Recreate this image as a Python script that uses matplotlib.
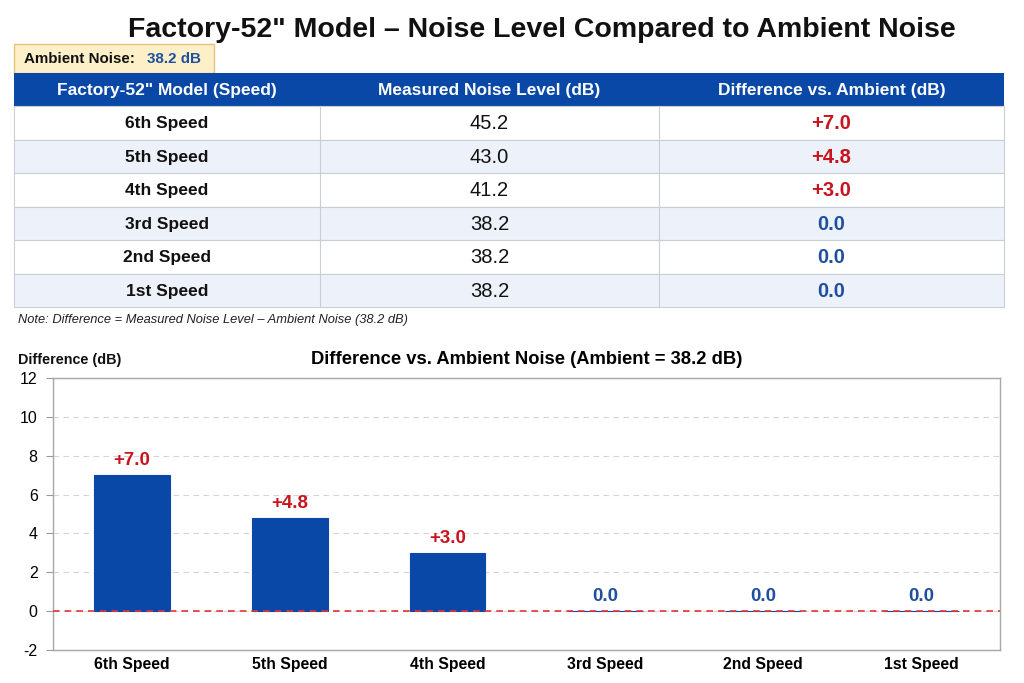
import numpy as np
import matplotlib
matplotlib.use("Agg")
import matplotlib.pyplot as plt
from matplotlib.patches import Rectangle

plt.rcParams['font.family'] = ['Liberation Sans', 'DejaVu Sans']
plt.rcParams['axes.unicode_minus'] = False

# data
speeds = ["6th Speed", "5th Speed", "4th Speed", "3rd Speed", "2nd Speed", "1st Speed"]
measured = [45.2, 43.0, 41.2, 38.2, 38.2, 38.2]
ambient = 38.2
diffs = [round(m - ambient, 1) for m in measured]
headers = ['Factory-52" Model (Speed)', "Measured Noise Level (dB)", "Difference vs. Ambient (dB)"]
yticks = [-2, 0, 2, 4, 6, 8, 10, 12]

BLUE = "#0a48a8"
RED = "#c8141e"
VALBLUE = "#1f4f9e"


def fmt_diff(d):
    return "+%.1f" % d if d > 0 else "%.1f" % d


def diff_color(d):
    return RED if d > 0 else VALBLUE


W, H = 1024, 683
fig = plt.figure(figsize=(W / 100, H / 100), dpi=100)
fig.patch.set_facecolor("white")

# overlay axes in pixel units for the title / table part
lay = fig.add_axes([0, 0, 1, 1])
lay.set_xlim(0, W)
lay.set_ylim(H, 0)
lay.axis("off")

lay.text(542, 30, 'Factory-52" Model \u2013 Noise Level Compared to Ambient Noise',
         ha="center", va="center", fontsize=20.5, fontweight="bold", color="#111111")

# ambient noise badge
lay.add_patch(Rectangle((14, 44), 200, 29, facecolor="#fdf0c8", edgecolor="#e6c277", lw=1))
lay.text(24, 59, "Ambient Noise:", ha="left", va="center", fontsize=10.9,
         fontweight="bold", color="#111111")
lay.text(147, 59, "%.1f dB" % ambient, ha="left", va="center", fontsize=10.9,
         fontweight="bold", color=VALBLUE)

# table
col_x = [14, 320, 659, 1004]
head_top, head_h, row_h = 73, 33, 33.5
lay.add_patch(Rectangle((col_x[0], head_top), col_x[-1] - col_x[0], head_h,
                        facecolor=BLUE, edgecolor=BLUE, lw=0))
for j, h in enumerate(headers):
    cx = (col_x[j] + col_x[j + 1]) / 2
    lay.text(cx, head_top + head_h / 2 + 1, h, ha="center", va="center",
             fontsize=12.5, fontweight="bold", color="white")

for i, (s, m, d) in enumerate(zip(speeds, measured, diffs)):
    y0 = head_top + head_h + i * row_h
    fc = "white" if i % 2 == 0 else "#edf2fa"
    lay.add_patch(Rectangle((col_x[0], y0), col_x[-1] - col_x[0], row_h,
                            facecolor=fc, edgecolor="#c9ced6", lw=0.8))
    for xv in col_x[1:-1]:
        lay.plot([xv, xv], [y0, y0 + row_h], color="#c9ced6", lw=0.8)
    cy = y0 + row_h / 2 + 1
    lay.text((col_x[0] + col_x[1]) / 2, cy, s, ha="center", va="center",
             fontsize=12.5, fontweight="bold", color="#111111")
    lay.text((col_x[1] + col_x[2]) / 2, cy, "%.1f" % m, ha="center", va="center",
             fontsize=14.5, color="#111111")
    lay.text((col_x[2] + col_x[3]) / 2, cy, fmt_diff(d), ha="center", va="center",
             fontsize=14.5, fontweight="bold", color=diff_color(d))

lay.text(18, 320, "Note: Difference = Measured Noise Level \u2013 Ambient Noise (%.1f dB)" % ambient,
         ha="left", va="center", fontsize=9.3, style="italic", color="#222222")

lay.text(18, 360, "Difference (dB)", ha="left", va="center", fontsize=10.4,
         fontweight="bold", color="#111111")

# bar chart
ax = fig.add_axes([53 / W, 1 - 650 / H, (1000 - 53) / W, (650 - 378) / H])
x = np.arange(len(speeds))
ax.bar(x, diffs, width=0.48, color=BLUE, edgecolor=BLUE, lw=0.8, zorder=2)
ax.axhline(0, color="#e0353a", lw=1.2, ls=(0, (4, 3)), zorder=3)
for xi, d in zip(x, diffs):
    ax.text(xi, d + 0.3, fmt_diff(d), ha="center", va="bottom", fontsize=13.5,
            fontweight="bold", color=diff_color(d))

ax.set_xlim(-0.5, len(speeds) - 0.5)
ax.set_ylim(yticks[0], yticks[-1])
ax.set_yticks(yticks)
ax.set_xticks(x)
ax.set_xticklabels(speeds, fontsize=11.3, fontweight="bold")
ax.tick_params(axis="y", labelsize=11.5, length=5, pad=6, color="#999999")
ax.tick_params(axis="x", length=0, pad=5)
ax.yaxis.grid(True, ls=(0, (5, 4)), color="#d5d5d5", lw=0.8, zorder=0)
ax.set_axisbelow(True)
for sp in ax.spines.values():
    sp.set_color("#a8a8a8")
    sp.set_linewidth(1)
ax.set_title("Difference vs. Ambient Noise (Ambient = %.1f dB)" % ambient,
             fontsize=13.2, fontweight="bold", pad=10)

fig.savefig("out.png", dpi=100)
